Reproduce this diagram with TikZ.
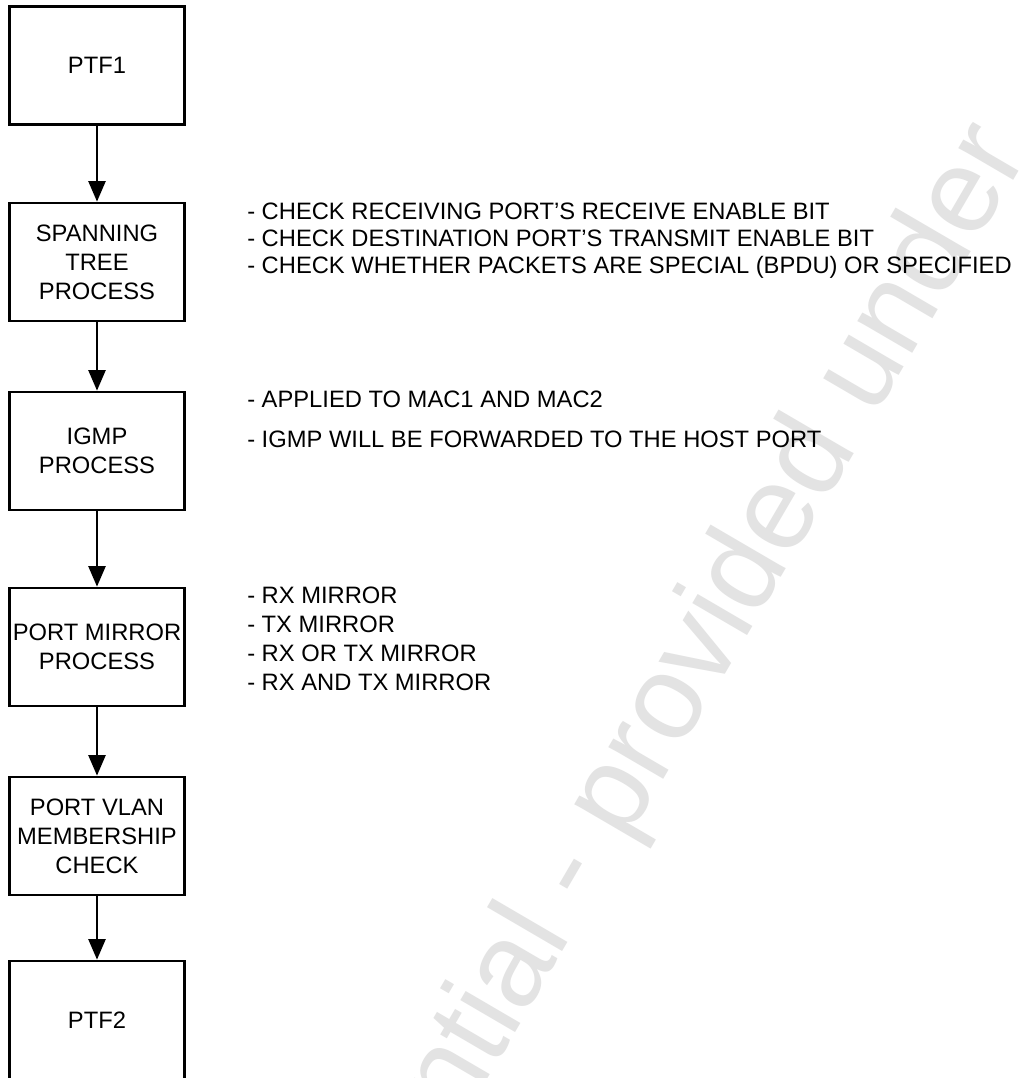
\documentclass[tikz,border=0pt]{standalone}
\usepackage{fontspec}
\setmainfont{Liberation Sans}
\usetikzlibrary{arrows.meta}
\begin{document}
\begin{tikzpicture}[x=0.75pt,y=-0.75pt,
  stage/.style={draw=black, line width=2pt, fill=white, inner sep=0pt,
    minimum width=131.25pt, minimum height=88.5pt, align=center,
    font=\fontsize{17.8}{21.75}\selectfont},
  flow/.style={line width=2pt, -{Triangle[length=15.5pt,width=12.75pt]}},
  note/.style={anchor=base west, inner sep=0pt,
    font=\fontsize{17.8}{20}\selectfont},
  wmark/.style={text=black!11, anchor=base west, inner sep=0pt,
    font=\fontsize{90}{90}\selectfont, rotate=59.7}]
  % page area
  \useasboundingbox (0,0) rectangle (1020,1078);
  \clip (0,0) rectangle (1020,1078);
  \fill[white] (0,0) rectangle (1020,1078);

  % background watermark
  \node[wmark] (wm) at (252,1483) {Confidential - provided under};

  % process chain
  \node[stage] (ptf1) at (97,65.5) {PTF1};
  \node[stage] (stp)  at (97,262)  {SPANNING\\TREE\\PROCESS};
  \node[stage] (igmp) at (97,451)  {IGMP\\PROCESS};
  \node[stage] (pmir) at (97,647)  {PORT MIRROR\\PROCESS};
  \node[stage] (vlan) at (97,836)  {PORT VLAN\\MEMBERSHIP\\CHECK};
  \node[stage] (ptf2) at (97,1020) {PTF2};

  \draw[flow] (ptf1) -- (stp);
  \draw[flow] (stp)  -- (igmp);
  \draw[flow] (igmp) -- (pmir);
  \draw[flow] (pmir) -- (vlan);
  \draw[flow] (vlan) -- (ptf2);

  % side notes
  \node[note] (s1) at (247,219) {- CHECK RECEIVING PORT’S RECEIVE ENABLE BIT};
  \node[note] (s2) at (247,246) {- CHECK DESTINATION PORT’S TRANSMIT ENABLE BIT};
  \node[note] (s3) at (247,273) {- CHECK WHETHER PACKETS ARE SPECIAL (BPDU) OR SPECIFIED};

  \node[note] (i1) at (247,407) {- APPLIED TO MAC1 AND MAC2};
  \node[note] (i2) at (247,447) {- IGMP WILL BE FORWARDED TO THE HOST PORT};

  \node[note] (m1) at (247,603) {- RX MIRROR};
  \node[note] (m2) at (247,632) {- TX MIRROR};
  \node[note] (m3) at (247,661) {- RX OR TX MIRROR};
  \node[note] (m4) at (247,690) {- RX AND TX MIRROR};
\end{tikzpicture}
\end{document}
